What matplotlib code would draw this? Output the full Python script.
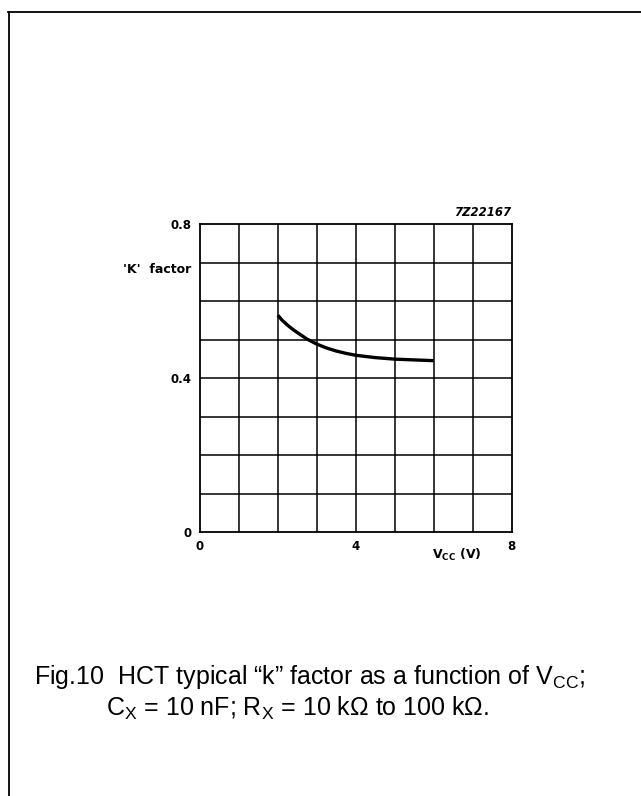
import numpy as np
import matplotlib
matplotlib.use("Agg")
import matplotlib.pyplot as plt
from matplotlib.lines import Line2D

plt.rcParams["mathtext.fontset"] = "custom"
plt.rcParams["mathtext.rm"] = "Liberation Sans"
plt.rcParams["mathtext.bf"] = "DejaVu Sans:bold"

# values
vcc = [2.0, 2.1, 2.25, 2.4, 2.5, 2.75, 3.0, 3.25, 3.5, 3.75, 4.0, 4.5, 5.0, 5.5, 6.0]
k_factor = [0.563, 0.551, 0.537, 0.525, 0.518, 0.501, 0.488, 0.478, 0.470, 0.464,
            0.459, 0.453, 0.449, 0.447, 0.445]

x_ticks = [0, 4, 8]
x_ticklabels = ["0", "4", "8"]
y_ticks = [0, 0.4, 0.8]
y_ticklabels = ["0", "0.4", "0.8"]

W, H = 641, 796
fig = plt.figure(figsize=(W / 100, H / 100), dpi=100)

# outer frame (top and left lines of the page box)
fig.add_artist(Line2D([8 / W, 1], [1 - 11.5 / H, 1 - 11.5 / H], color="black", lw=1.3))
fig.add_artist(Line2D([9 / W, 9 / W], [0, 1 - 11.5 / H], color="black", lw=1.3))

ax = fig.add_axes([200 / W, 1 - 532 / H, 311.5 / W, 308 / H])
ax.set_xlim(0, 8)
ax.set_ylim(0, 0.8)

for xv in np.arange(1, 8, 1):
    ax.axvline(xv, color="black", lw=1.1)
for yv in np.arange(0.1, 0.8, 0.1):
    ax.axhline(yv, color="black", lw=1.1)
ax.set_xticks(x_ticks)
ax.set_yticks(y_ticks)
ax.set_xticklabels(x_ticklabels)
ax.set_yticklabels(y_ticklabels)
ax.tick_params(which="both", length=0)
ax.tick_params(axis="x", pad=6, labelsize=8.5)
ax.tick_params(axis="y", pad=6, labelsize=8.5)
for lab in ax.get_xticklabels() + ax.get_yticklabels():
    lab.set_fontweight("bold")
for s in ax.spines.values():
    s.set_linewidth(1.3)

ax.plot(vcc, k_factor, color="black", lw=2.4, solid_capstyle="butt")

ax.text(-0.22, 0.682, "'K'  factor", ha="right", va="center", fontsize=9, fontweight="bold")
ax.text(6.6, -0.06, r"V$_{\mathbf{CC}}$ (V)", ha="center", va="center", fontsize=9, fontweight="bold")
ax.text(8.0, 0.83, "7Z22167", ha="right", va="center", fontsize=8.4, fontweight="bold", style="italic")

fig.text(310 / W, 1 - 677 / H, r"Fig.10  HCT typical “k” factor as a function of V$_{\rm CC}$;",
         ha="center", va="center", fontsize=18, family="Liberation Sans")
fig.text(298 / W, 1 - 708 / H, r"C$_{\rm X}$ = 10 nF; R$_{\rm X}$ = 10 kΩ to 100 kΩ.",
         ha="center", va="center", fontsize=18, family="Liberation Sans")

fig.savefig("out.png", dpi=100)
